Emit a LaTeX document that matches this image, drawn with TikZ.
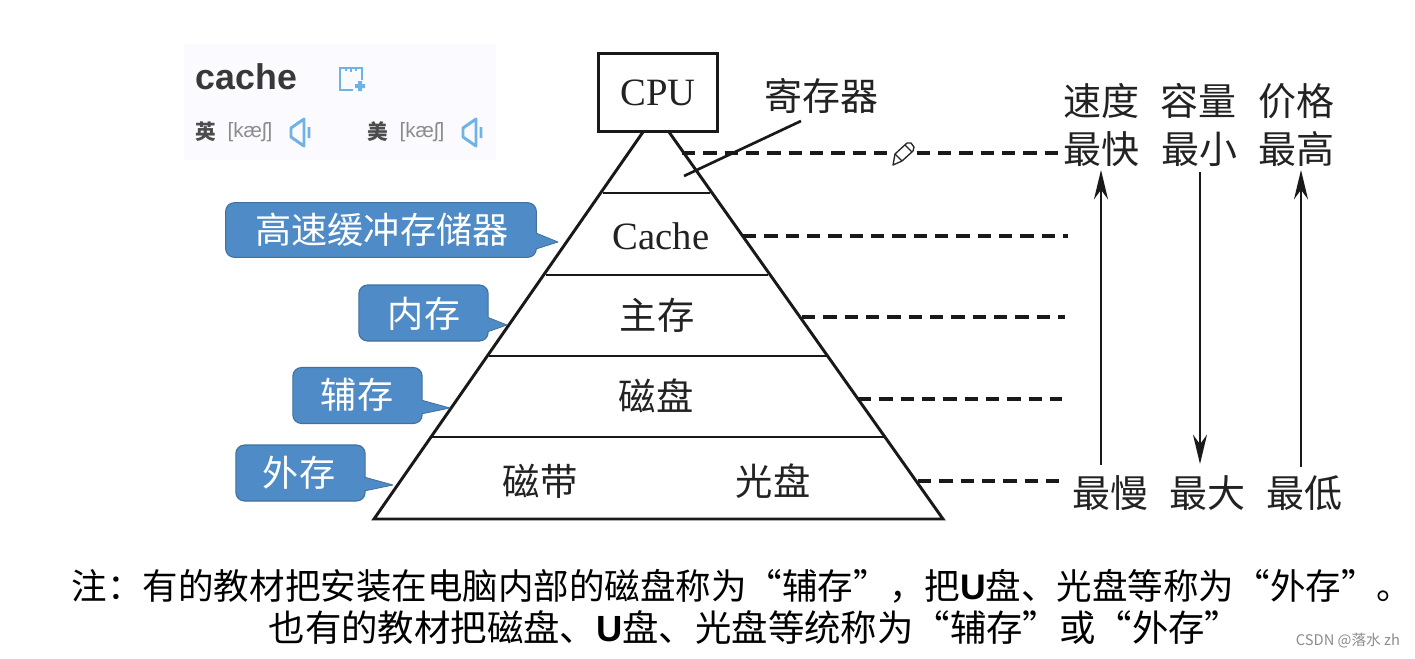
\documentclass[tikz,border=0pt]{standalone}
\usepackage{fontspec}
\usetikzlibrary{arrows.meta}
\setmainfont{Liberation Serif}
\newfontfamily\cjk{Noto Sans CJK SC}
\newfontfamily\lsans{Liberation Sans}
\definecolor{bubblefill}{HTML}{4F8BC6}
\definecolor{bubbleline}{HTML}{41719C}
\definecolor{iconblue}{HTML}{6FB3E6}
\definecolor{inkgray}{HTML}{222222}
\tikzset{
  cn/.style={inner sep=0pt,text=inkgray,font=\cjk\fontsize{28}{30}\selectfont},
  cnr/.style={inner sep=0pt,text=inkgray,font=\cjk\fontsize{28.5}{30}\selectfont},
  bubbletxt/.style={inner sep=0pt,text=white,font=\cjk\fontsize{27.1}{30}\selectfont},
  bubble/.style={draw=bubbleline,fill=bubblefill,line width=0.8pt,rounded corners=6.5pt,inner sep=0pt},
  tail/.style={fill=bubblefill,draw=bubbleline,line width=0.6pt,line join=round},
  ser/.style={inner sep=0pt,text=inkgray,font=\fontsize{29}{30}\selectfont},
  pyr/.style={draw=black!90,line width=2.2pt},
  dashline/.style={draw=black!90,line width=2.3pt,dash pattern=on 10pt off 6pt},
  axisarrow/.style={draw=black!90,line width=1.8pt,-{Stealth[length=22pt,width=10.5pt]}},
  notetxt/.style={inner sep=0pt,text=black,font=\cjk\fontsize{26.65}{30}\selectfont},
  notetwo/.style={inner sep=0pt,text=black,font=\cjk\fontsize{27.3}{30}\selectfont},
  spk/.style={draw=iconblue,line width=2.2pt,line join=round},
  phon/.style={inner sep=0pt,text=black!45,font=\lsans\fontsize{15.5}{18}\selectfont},
  flag/.style={inner sep=0pt,text=black!70,font=\cjk\bfseries\fontsize{15.5}{18}\selectfont},
}
\begin{document}
\begin{tikzpicture}[x=0.75pt,y=-0.75pt]
\useasboundingbox (0,0) rectangle (1415,658);
\fill[white] (0,0) rectangle (1415,658);
% dictionary panel
\fill[blue!1.5!white] (184,44) rectangle (496,160);
\node[inner sep=0pt,text=black!78,font=\lsans\bfseries\fontsize{26.8}{28}\selectfont] (word) at (246.5,77) {cache};
\draw[iconblue,line width=2pt] (353,90) -- (340,90) -- (340,68) -- (362,68) -- (362,80);
\draw[iconblue,line width=1.6pt] (346,68) -- (346,71) (351,68) -- (351,72) (356,68) -- (356,71);
\fill[iconblue] (358,81) rectangle (362,91) (355,84) rectangle (365,88);
\node[flag] (uk) at (206,132) {英};
\node[phon] (ukp) at (250,132) {[kæʃ]};
\node[flag] (us) at (378,132) {美};
\node[phon] (usp) at (422,132) {[kæʃ]};
\draw[spk] (304,119) -- (291,128) -- (291,137) -- (304,146) -- cycle (309,127) -- (309,138);
\draw[spk] (476,119) -- (463,128) -- (463,137) -- (476,146) -- cycle (481,127) -- (481,138);
% pyramid
\coordinate (apexL) at (643,132);
\coordinate (apexR) at (669,132);
\coordinate (baseL) at (374,519);
\coordinate (baseR) at (943,519);
\node[draw=black!90,line width=2.2pt,fill=white,minimum width=89pt,minimum height=59pt,inner sep=0pt,ser] (cpu) at (658,92.5) {CPU};
\draw[pyr,line join=miter] (apexL) -- (baseL) -- (baseR) -- (apexR);
\coordinate (l1a) at (603,193); \coordinate (l1b) at (710,193);
\coordinate (l2a) at (546,275); \coordinate (l2b) at (768,275);
\coordinate (l3a) at (489,356); \coordinate (l3b) at (827,356);
\coordinate (l4a) at (432,437); \coordinate (l4b) at (885,437);
\draw[pyr] (l1a) -- (l1b);
\draw[pyr] (l2a) -- (l2b);
\draw[pyr] (l3a) -- (l3b);
\draw[pyr] (l4a) -- (l4b);
% pyramid labels
\node[ser] (cache) at (661,236) {Cache};
\node[cn] (zhu) at (657,315) {主存};
\node[cn] (cipan) at (656,396) {磁盘};
\node[cn] (cidai) at (540,481) {磁带};
\node[cn] (guang) at (773,481) {光盘};
\node[cnr] (reg) at (821,96) {寄存器};
\coordinate (regA) at (684,176);
\coordinate (regB) at (801,121);
\draw[draw=black!90,line width=2pt] (regA) -- (regB);
% dashed levels
\coordinate (d1a) at (682,153); \coordinate (d1b) at (1058,153);
\coordinate (d2a) at (743,236); \coordinate (d2b) at (1068,236);
\coordinate (d3a) at (802,317); \coordinate (d3b) at (1065,317);
\coordinate (d4a) at (858,399); \coordinate (d4b) at (1062,399);
\coordinate (d5a) at (918,481); \coordinate (d5b) at (1066,481);
\draw[dashline] (d1a) -- (d1b);
\draw[dashline] (d2a) -- (d2b);
\draw[dashline] (d3a) -- (d3b);
\draw[dashline] (d4a) -- (d4b);
\draw[dashline] (d5a) -- (d5b);
% pencil cursor
\fill[white] (889,143) rectangle (916,167);
\filldraw[fill=white,draw=black!85,line width=1pt,line join=round] (893,165) -- (895,154) -- (907,143) -- (911,143) -- (914,147) -- (913,151) -- (902,161) -- cycle;
\draw[black!85,line width=.8pt] (895,154) -- (902,161) (905,145) -- (912,152);
% right columns
\node[cnr] (sd) at (1101,101) {速度};
\node[cnr] (rl) at (1198,101) {容量};
\node[cnr] (jg) at (1296,101) {价格};
\node[cnr] (zk) at (1101,149) {最快};
\node[cnr] (zx) at (1199,149) {最小};
\node[cnr] (zg) at (1296,149) {最高};
\node[cnr] (zm) at (1110,493) {最慢};
\node[cnr] (zd) at (1207,493) {最大};
\node[cnr] (zdi) at (1304,493) {最低};
\coordinate (a1s) at (1101,465); \coordinate (a1e) at (1101,170);
\coordinate (a2s) at (1200,172); \coordinate (a2e) at (1200,464);
\coordinate (a3s) at (1301,467); \coordinate (a3e) at (1301,170);
\draw[axisarrow] (a1s) -- (a1e);
\draw[axisarrow] (a2s) -- (a2e);
\draw[axisarrow] (a3s) -- (a3e);
% callouts
\fill[tail] (536,233) -- (558,242) -- (536,249) -- cycle;
\node[bubble,minimum width=233pt,minimum height=41pt] (b1) at (381,230) {};
\fill[bubblefill] (534,234) rectangle (538,248);
\node[bubbletxt] (b1t) at (382,230) {高速缓冲存储器};
\fill[tail] (487,317) -- (507,325) -- (487,332) -- cycle;
\node[bubble,minimum width=97pt,minimum height=42pt] (b2) at (423.5,313) {};
\fill[bubblefill] (485,318) rectangle (489,331);
\node[bubbletxt] (b2t) at (424,314) {内存};
\fill[tail] (421,400) -- (450,408) -- (421,414) -- cycle;
\node[bubble,minimum width=97pt,minimum height=42pt] (b3) at (357.5,395.5) {};
\fill[bubblefill] (419,401) rectangle (423,413);
\node[bubbletxt] (b3t) at (357,395) {辅存};
\fill[tail] (364,477) -- (393,485) -- (364,491) -- cycle;
\node[bubble,minimum width=97pt,minimum height=42pt] (b4) at (300.5,473) {};
\fill[bubblefill] (362,478) rectangle (366,490);
\node[bubbletxt] (b4t) at (299,473) {外存};
% note
\node[notetxt] (n1) at (742,586) {注：有的教材把安装在电脑内部的磁盘称为“辅存”，把{\lsans\bfseries U}盘、光盘等称为“外存”。};
\node[notetwo] (n2) at (755,628) {也有的教材把磁盘、{\lsans\bfseries U}盘、光盘等统称为“辅存”或“外存”};
\node[inner sep=0pt,text=black!45,font=\cjk\fontsize{11}{13}\selectfont] (wm) at (1348,641) {CSDN @落水 zh};
\end{tikzpicture}
\end{document}
